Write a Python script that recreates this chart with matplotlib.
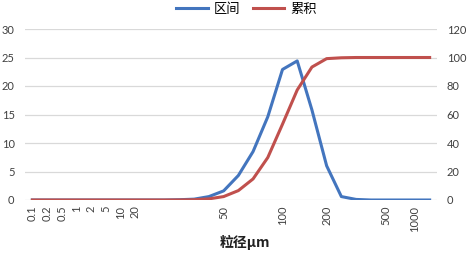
import matplotlib
matplotlib.use("Agg")
import matplotlib.pyplot as plt
import numpy as np

plt.rcParams['font.family'] = ['Lato', 'Noto Sans CJK SC', 'DejaVu Sans']

# particle size categories (only some carry a label)
size_labels = ['0.1', '0.2', '0.5', '1', '2', '5', '10', '20', '', '', '', '', '', '50',
               '', '', '', '100', '', '', '200', '', '', '', '500', '', '1000', '']
# interval distribution (%)
interval = [0, 0, 0, 0, 0, 0, 0, 0, 0, 0, 0.05, 0.15, 0.6, 1.6, 4.3, 8.5, 14.6, 22.9,
            24.4, 15.8, 6.0, 0.6, 0.1, 0, 0, 0, 0, 0]
# cumulative distribution (%)
cumulative = [0, 0, 0, 0, 0, 0, 0, 0, 0, 0, 0.05, 0.2, 0.8, 2.4, 6.6, 14.8, 29.8, 53.2,
              77.2, 93.3, 99.2, 99.8, 100, 100, 100, 100, 100, 100]

blue = '#4375BE'
red = '#C0504D'

fig = plt.figure(figsize=(4.68, 2.56), dpi=100)
ax = fig.add_axes([25 / 468, 1 - 200 / 256, 412 / 468, 171 / 256])
ax2 = ax.twinx()

x = np.arange(len(size_labels))
l1, = ax.plot(x, interval, color=blue, lw=2.2, label='区间', zorder=3)
l2, = ax2.plot(x, cumulative, color=red, lw=2.2, label='累积', zorder=3)

ax.set_xlim(-0.5, len(size_labels) - 0.5)
ax.set_ylim(0, 30)
ax2.set_ylim(0, 120)
ax.set_yticks(np.arange(0, 31, 5))
ax2.set_yticks(np.arange(0, 121, 20))
ax.grid(axis='y', color='#D9D9D9', lw=0.9)
ax.set_axisbelow(True)

ax.set_xticks(x)
ax.set_xticklabels(size_labels, rotation=90, fontsize=8, color='#404040')
ax.tick_params(axis='x', length=0, pad=4)
ax.tick_params(axis='y', length=0, labelsize=8, labelcolor='#404040', pad=7.5)
ax2.tick_params(axis='y', length=0, labelsize=8, labelcolor='#404040', pad=7)

for a in (ax, ax2):
    for s in a.spines.values():
        s.set_visible(False)

ax.set_xlabel('粒径μm', fontsize=10, fontweight='bold', color='#202020',
              family=['Noto Sans CJK SC', 'DejaVu Sans'])
ax.xaxis.set_label_coords((245 - 25) / 412, -0.205)

fig.legend(handles=[l1, l2], loc='upper center', bbox_to_anchor=(0.527, 1.035), ncol=2,
           frameon=False, handlelength=2.4, columnspacing=0.9,
           handletextpad=0.5, prop={'family': ['Noto Sans CJK SC', 'DejaVu Sans'], 'size': 9.5})

fig.savefig('out.png', dpi=100)
